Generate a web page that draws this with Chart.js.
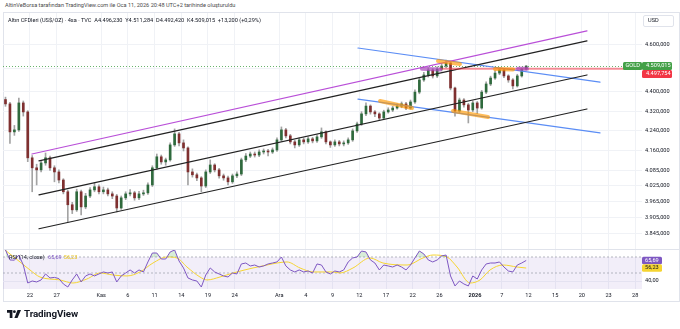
<!DOCTYPE html>
<html lang="tr">
<head>
<meta charset="UTF-8">
<title>Altın CFDleri (US$/OZ) - 4sa</title>
<script src="https://cdn.jsdelivr.net/npm/chart.js"></script>
<style>
  body { margin: 0; width: 680px; height: 329px; background: #fff; position: relative; overflow: hidden;
         font-family: Roboto, "Liberation Sans", sans-serif; color: #131722; }
  .credit { position: absolute; left: 5px; top: 2px; font-size: 5.6px; color: #4a4a4a; white-space: nowrap; }
  .frame { position: absolute; left: 3px; top: 12px; width: 677px; height: 290px; border: 1px solid #e0e3eb; box-sizing: border-box; }
  .sep { position: absolute; left: 3px; top: 249px; width: 677px; height: 1px; background: #e0e3eb; }
  #mainBox { position: absolute; left: 3px; top: 13px; width: 677px; height: 236px; }
  #rsiBox { position: absolute; left: 3px; top: 250px; width: 677px; height: 51px; }
  .legend { position: absolute; left: 8px; top: 16.5px; font-size: 5.6px; white-space: nowrap; }
  .rsiLegend { position: absolute; left: 9px; top: 253.5px; font-size: 5.6px; white-space: nowrap; }
  .rsiLegend .v1 { color: #7e57c2; margin-left: 2px; }
  .rsiLegend .v2 { color: #e8c21a; margin-left: 2px; }
  .brand { position: absolute; left: 7px; top: 308px; display: flex; align-items: center; gap: 3px;
           font-size: 9.8px; font-weight: 700; letter-spacing: -0.1px; }
</style>
</head>
<body>
<div class="credit">AltinVeBorsa tarafından TradingView.com ile Oca 11, 2026 20:48 UTC+2 tarihinde oluşturuldu</div>
<div class="frame"></div>
<div id="mainBox"><canvas id="mainChart" width="677" height="236"></canvas></div>
<div class="sep"></div>
<div id="rsiBox"><canvas id="rsiChart" width="677" height="51"></canvas></div>
<div class="legend">Altın CFDleri (US$/OZ) · 4sa · TVC&nbsp;&nbsp;A4.496,230&nbsp;&nbsp;Y4.511,284&nbsp;&nbsp;D4.492,420&nbsp;&nbsp;K4.509,015&nbsp;&nbsp;+13,200 (+0,29%)</div>
<div class="rsiLegend">RSI (14, close) <span class="v1">65,69</span><span class="v2">56,23</span></div>
<div class="brand">
  <svg width="14" height="8" viewBox="0 0 36 20"><path d="M0 0h14v20h-7v-13h-7z" fill="#131722"/><circle cx="19" cy="4" r="3.6" fill="#131722"/><path d="M27 0h9l-9 20h-8z" fill="#131722"/></svg>
  <span>TradingView</span>
</div>

<script>
// ---- data (4h gold chart, resampled to 12h candles) ----
const firstCandleDay = -2.75;   // trading days relative to Oct 22
const candleStepDays = 0.5;

const candleOpen = [
  4368, 4350, 4236, 4244, 4354, 4317, 4133, 4094, 4086, 4113,
  4133, 4094, 4078, 4047, 4002, 3953, 3934, 4002, 3945, 3986,
  4009, 4021, 4002, 4009, 3994, 3986, 3941, 3979, 3994, 3998,
  3979, 3994, 3998, 4028, 4094, 4137, 4117, 4125, 4184, 4228,
  4192, 4172, 4078, 4067, 4055, 4024, 4078, 4105, 4086, 4063,
  4055, 4040, 4063, 4070, 4125, 4140, 4148, 4144, 4156, 4160,
  4156, 4164, 4204, 4244, 4220, 4196, 4184, 4204, 4196, 4208,
  4200, 4216, 4236, 4196, 4184, 4196, 4188, 4192, 4204, 4240,
  4268, 4309, 4341, 4317, 4309, 4292, 4317, 4325, 4333, 4341,
  4350, 4333, 4358, 4399, 4450, 4471, 4492, 4467, 4496, 4509,
  4522, 4416, 4321, 4366, 4346, 4325, 4354, 4333, 4399, 4433,
  4458, 4479, 4492, 4467, 4450, 4425, 4467, 4496.23
];
const candleHigh = [
  4378, 4356, 4262, 4374, 4362, 4322, 4142, 4108, 4122, 4152,
  4140, 4102, 4086, 4052, 4008, 3962, 4012, 4008, 3996, 4018,
  4036, 4028, 4020, 4016, 4002, 3992, 3986, 4002, 4010, 4004,
  4004, 4008, 4036, 4102, 4148, 4144, 4132, 4192, 4248, 4234,
  4204, 4176, 4090, 4074, 4060, 4086, 4125, 4110, 4092, 4070,
  4062, 4070, 4078, 4132, 4150, 4156, 4156, 4164, 4168, 4166,
  4172, 4212, 4256, 4250, 4226, 4202, 4212, 4212, 4216, 4214,
  4224, 4252, 4240, 4200, 4204, 4202, 4200, 4212, 4248, 4276,
  4318, 4354, 4346, 4322, 4314, 4324, 4334, 4340, 4350, 4358,
  4356, 4366, 4408, 4460, 4482, 4502, 4498, 4506, 4520, 4535,
  4528, 4420, 4374, 4372, 4352, 4362, 4360, 4406, 4442, 4466,
  4490, 4501, 4498, 4472, 4456, 4474, 4500, 4511.284
];
const candleLow = [
  4340, 4190, 4222, 4238, 4300, 4118, 4002, 4028, 4078, 4104,
  4084, 4040, 4036, 3994, 3889, 3920, 3928, 3915, 3938, 3980,
  4002, 3994, 3994, 3986, 3976, 3926, 3936, 3972, 3986, 3970,
  3972, 3988, 3992, 4022, 4088, 4108, 4104, 4120, 4178, 4180,
  4160, 4028, 4058, 4044, 4002, 4018, 4072, 4078, 4054, 4046,
  4028, 4034, 4056, 4064, 4118, 4134, 4136, 4138, 4148, 4140,
  4150, 4158, 4198, 4212, 4188, 4172, 4178, 4188, 4190, 4192,
  4194, 4210, 4188, 4174, 4178, 4180, 4180, 4186, 4198, 4234,
  4262, 4302, 4308, 4298, 4284, 4288, 4312, 4318, 4328, 4334,
  4326, 4328, 4352, 4392, 4444, 4462, 4458, 4460, 4488, 4502,
  4408, 4300, 4314, 4336, 4272, 4318, 4310, 4328, 4392, 4426,
  4452, 4472, 4460, 4440, 4412, 4420, 4462, 4492.42
];
const candleClose = [
  4350, 4236, 4244, 4354, 4317, 4133, 4094, 4086, 4113, 4133,
  4094, 4078, 4047, 4002, 3953, 3934, 4002, 3945, 3986, 4009,
  4021, 4002, 4009, 3994, 3986, 3941, 3979, 3994, 3998, 3979,
  3994, 3998, 4028, 4094, 4137, 4117, 4125, 4184, 4228, 4192,
  4172, 4078, 4067, 4055, 4024, 4078, 4105, 4086, 4063, 4055,
  4040, 4063, 4070, 4125, 4140, 4148, 4144, 4156, 4160, 4156,
  4164, 4204, 4244, 4220, 4196, 4184, 4204, 4196, 4208, 4200,
  4216, 4236, 4196, 4184, 4196, 4188, 4192, 4204, 4240, 4268,
  4309, 4341, 4317, 4309, 4292, 4317, 4325, 4333, 4341, 4350,
  4333, 4358, 4399, 4450, 4471, 4492, 4467, 4496, 4509, 4522,
  4416, 4321, 4366, 4346, 4325, 4354, 4333, 4399, 4433, 4458,
  4479, 4492, 4467, 4450, 4425, 4467, 4496, 4509.015
];

const rsiValues = [
  78.8, 66.3, 66.0, 72.5, 60.0, 37.5, 40.0, 38.8, 41.3, 48.8,
  43.8, 44.5, 43.0, 36.3, 32.5, 41.3, 48.8, 38.8, 46.3, 48.8,
  46.3, 48.8, 51.3, 50.0, 51.3, 38.8, 46.3, 50.0, 53.8, 50.0,
  53.8, 51.3, 63.8, 75.0, 75.0, 67.5, 67.5, 76.3, 78.8, 65.0,
  56.3, 43.8, 41.3, 40.0, 32.5, 47.5, 56.3, 51.3, 48.8, 46.3,
  45.0, 50.0, 48.8, 61.3, 62.5, 58.8, 60.0, 57.5, 58.8, 61.3,
  62.5, 63.8, 70.0, 58.8, 53.8, 51.3, 53.8, 51.3, 52.5, 50.0,
  61.3, 60.0, 51.3, 48.8, 52.5, 51.3, 53.8, 63.8, 68.8, 70.0,
  77.5, 76.3, 66.3, 62.5, 53.8, 60.0, 58.8, 57.5, 60.0, 57.5,
  53.8, 60.0, 68.8, 77.5, 73.8, 66.3, 63.8, 66.3, 71.3, 72.5,
  46.3, 33.8, 40.0, 36.3, 33.8, 46.3, 42.5, 53.8, 61.3, 62.5,
  62.5, 63.8, 57.5, 52.5, 51.3, 60.0, 62.5, 65.69
];
const rsiMaDays = [
  -2.81, -1.12, 0, 1.12, 3.37, 4.83, 6.40, 7.87, 9.33, 10.9,
  12.36, 13.82, 15.39, 16.52, 17.64, 19.1, 19.89, 21.35, 22.81, 25.06,
  26.63, 27.75, 28.88, 30.34, 31.8, 34.04, 34.83, 36.29, 38.2, 39.66,
  42.36, 44.16, 45.28, 46.85, 47.98, 49.44, 50.56, 51.69, 53.15, 54.72, 55.75
];
const rsiMaValues = [
  78.8, 63.8, 53.8, 45.0, 41.3, 37.5, 42.5, 50.0, 47.5, 46.3,
  51.3, 62.5, 70.0, 68.8, 57.5, 45.0, 41.3, 45.0, 50.0, 56.3,
  60.0, 62.5, 63.8, 56.3, 51.3, 51.3, 50.0, 56.3, 68.8, 62.5,
  60.0, 68.8, 72.5, 70.0, 57.5, 37.5, 41.3, 53.8, 60.0, 57.5, 56.23
];

const dateTickDays = [0, 3, 8, 11, 14, 17, 20, 23, 28, 31, 34, 37, 40, 43, 46, 50, 53, 56, 59, 62, 65, 68];
const dateTickLabels = ['22', '27', 'Kas', '6', '11', '14', '19', '24', 'Ara', '4', '9', '12', '17', '22', '26', '2026', '7', '12', '15', '20', '23', '28'];
const priceTicks = [4600, 4500, 4400, 4320, 4240, 4160, 4085, 4025, 3965, 3905, 3845];
const hiddenPriceTicks = [4500];
const rsiTicks = [40];

const lastPrice = 4509.015;
const alertPrice = 4497.754;
const rsiLast = 65.69;
const rsiMaLast = 56.23;

// drawings: [trading day, price]
const purpleLine = [[0.22, 4148], [62.58, 4662]];
const channelUpper = [[1.01, 4121], [62.58, 4618]];
const channelMiddle = [[1.01, 3990], [62.58, 4471]];
const channelLower = [[1.01, 3864], [62.58, 4329]];
const blueUpper = [[36.85, 4587], [64.04, 4441]];
const blueLower = [[36.85, 4370], [64.04, 4232]];
const alertLine = [[46.07, 4497.754], [68.76, 4497.754]];
const orangeMarks = [
  [[39.33, 4362], [42.92, 4333]],
  [[45.84, 4531], [48.31, 4518]],
  [[47.53, 4321], [51.46, 4296]],
  [[52.25, 4496], [54.27, 4494]]
];
const purpleMarks = [
  [[44.04, 4497], [46.07, 4494]],
  [[54.83, 4498], [55.84, 4498]]
];

// ---- view settings ----
const xMin = -3.03, xMax = 68.76;
const priceMin = 3790.5, priceMax = 4741.8;
const rsiMin = 30, rsiMax = 78.75;
const FONT = 'Roboto, "Liberation Sans", sans-serif';
const gridColor = '#f0f2f6';
const upColor = '#2f6a3d', downColor = '#7f3030', wickColor = '#a3a3a3';

function fmtTR(v, d) {
  const s = v.toFixed(d);
  const parts = s.split('.');
  return parts[0].replace(/\B(?=(\d{3})+(?!\d))/g, '.') + (parts[1] ? ',' + parts[1] : '');
}

function tag(ctx, x, y, w, h, bg, border) {
  ctx.beginPath();
  ctx.roundRect(x, y, w, h, 1.5);
  ctx.fillStyle = bg;
  ctx.fill();
  if (border) { ctx.strokeStyle = border; ctx.lineWidth = 1; ctx.stroke(); }
}

const candleDay = candleClose.map((_, i) => firstCandleDay + i * candleStepDays);
const bodyColors = candleClose.map((c, i) => c >= candleOpen[i] ? upColor : downColor);

function segment(points, color, width, order) {
  return {
    type: 'line',
    data: points.map(p => ({ x: p[0], y: p[1] })),
    borderColor: color,
    borderWidth: width,
    borderCapStyle: 'round',
    pointRadius: 0,
    fill: false,
    tension: 0,
    order: order
  };
}

const mainDecor = {
  id: 'mainDecor',
  beforeDatasetsDraw(chart) {
    const { ctx, chartArea: a, scales: { y } } = chart;
    const py = Math.round(y.getPixelForValue(lastPrice)) + 0.5;
    ctx.save();
    ctx.strokeStyle = 'rgba(67,160,71,0.8)';
    ctx.setLineDash([1, 2]);
    ctx.lineWidth = 1;
    ctx.beginPath();
    ctx.moveTo(a.left, py);
    ctx.lineTo(a.right, py);
    ctx.stroke();
    ctx.restore();
  },
  afterDraw(chart) {
    const { ctx, chartArea: a, scales: { y } } = chart;
    ctx.save();
    ctx.font = '5.6px ' + FONT;
    ctx.textBaseline = 'middle';
    // currency box
    tag(ctx, a.right + 1.5, 2.5, 30, 11, '#ffffff', '#e0e3eb');
    ctx.fillStyle = '#131722';
    ctx.fillText('USD', a.right + 6, 8);
    // last price + alert level
    const gy = y.getPixelForValue(lastPrice);
    tag(ctx, a.right - 19, gy - 4, 19, 8, '#43a047');
    tag(ctx, a.right, gy - 4, 30, 8, '#43a047');
    tag(ctx, a.right, gy + 4, 30, 8, '#f23645');
    ctx.fillStyle = '#ffffff';
    ctx.fillText('GOLD', a.right - 16.5, gy);
    ctx.fillText(fmtTR(lastPrice, 3), a.right + 4, gy);
    ctx.fillText(fmtTR(alertPrice, 3), a.right + 4, gy + 8);
    ctx.restore();
  }
};

const rsiDecor = {
  id: 'rsiDecor',
  beforeDatasetsDraw(chart) {
    const { ctx, chartArea: a, scales: { y } } = chart;
    const y70 = y.getPixelForValue(70), y30 = y.getPixelForValue(30), y50 = y.getPixelForValue(50);
    ctx.save();
    ctx.fillStyle = 'rgba(126,87,194,0.1)';
    ctx.fillRect(a.left, y70, a.right - a.left, y30 - y70);
    ctx.strokeStyle = '#a3a6af';
    ctx.setLineDash([2, 2]);
    ctx.lineWidth = 0.8;
    [y70, y50].forEach(py => {
      ctx.beginPath();
      ctx.moveTo(a.left, py);
      ctx.lineTo(a.right, py);
      ctx.stroke();
    });
    ctx.restore();
  },
  afterDraw(chart) {
    const { ctx, chartArea: a, scales: { y } } = chart;
    ctx.save();
    ctx.font = '5.6px ' + FONT;
    ctx.textBaseline = 'middle';
    const p1 = y.getPixelForValue(rsiLast), p2 = y.getPixelForValue(rsiMaLast);
    tag(ctx, a.right, p1 - 3.7, 20, 7.4, '#7e57c2');
    tag(ctx, a.right, p2 - 3.7, 20, 7.4, '#f5d431');
    ctx.fillStyle = '#ffffff';
    ctx.fillText(fmtTR(rsiLast, 2), a.right + 3, p1);
    ctx.fillStyle = '#131722';
    ctx.fillText(fmtTR(rsiMaLast, 2), a.right + 3, p2);
    ctx.restore();
  }
};

const datasets = [
  {
    type: 'bar',
    data: candleDay.map((d, i) => ({ x: d, y: [candleLow[i], candleHigh[i]] })),
    backgroundColor: wickColor,
    barThickness: 1,
    grouped: false,
    borderWidth: 0,
    order: 50
  },
  {
    type: 'bar',
    data: candleDay.map((d, i) => ({ x: d, y: [candleOpen[i], candleClose[i]] })),
    backgroundColor: bodyColors,
    barThickness: 2,
    minBarLength: 1,
    grouped: false,
    borderWidth: 0,
    order: 40
  },
  segment(purpleLine, '#b94fd8', 1.2, 20),
  segment(channelUpper, '#222222', 1.2, 20),
  segment(channelMiddle, '#222222', 1.2, 20),
  segment(channelLower, '#222222', 1.2, 20),
  segment(blueUpper, '#5b8df5', 1.2, 20),
  segment(blueLower, '#5b8df5', 1.2, 20),
  segment(alertLine, 'rgba(242,54,69,0.55)', 2, 15)
];
orangeMarks.forEach(m => datasets.push(segment(m, 'rgba(255,152,0,0.65)', 4, 10)));
purpleMarks.forEach(m => datasets.push(segment(m, 'rgba(171,71,188,0.7)', 4, 10)));

new Chart(document.getElementById('mainChart'), {
  type: 'bar',
  data: { datasets: datasets },
  options: {
    responsive: false,
    animation: false,
    events: [],
    layout: { padding: 0 },
    plugins: { legend: { display: false }, tooltip: { enabled: false } },
    scales: {
      x: {
        type: 'linear', min: xMin, max: xMax, offset: false,
        grid: { color: gridColor, drawTicks: false, offset: false },
        border: { display: false },
        ticks: { display: false },
        afterBuildTicks: s => { s.ticks = dateTickDays.map(v => ({ value: v })); },
        afterFit: s => { s.height = 0; s.paddingLeft = 0; s.paddingRight = 0; }
      },
      y: {
        type: 'logarithmic', position: 'right', min: priceMin, max: priceMax,
        grid: { color: gridColor, drawTicks: false },
        border: { display: false },
        ticks: {
          padding: 3, autoSkip: false, color: '#131722', font: { family: FONT, size: 5.6 },
          callback: v => hiddenPriceTicks.includes(v) ? '' : fmtTR(v, 3)
        },
        afterBuildTicks: s => { s.ticks = priceTicks.map(v => ({ value: v })); },
        afterFit: s => { s.width = 38; s.paddingTop = 0; s.paddingBottom = 0; }
      }
    }
  },
  plugins: [mainDecor]
});

new Chart(document.getElementById('rsiChart'), {
  type: 'line',
  data: {
    datasets: [
      {
        data: candleDay.map((d, i) => ({ x: d, y: rsiValues[i] })),
        borderColor: '#7e57c2',
        borderWidth: 1,
        pointRadius: 0,
        tension: 0,
        fill: { target: { value: 70 }, above: 'rgba(76,175,80,0.22)', below: 'rgba(0,0,0,0)' },
        order: 1
      },
      {
        data: rsiMaDays.map((d, i) => ({ x: d, y: rsiMaValues[i] })),
        borderColor: '#f5d431',
        borderWidth: 1,
        pointRadius: 0,
        cubicInterpolationMode: 'monotone',
        fill: false,
        order: 2
      }
    ]
  },
  options: {
    responsive: false,
    animation: false,
    events: [],
    layout: { padding: 0 },
    plugins: { legend: { display: false }, tooltip: { enabled: false } },
    scales: {
      x: {
        type: 'linear', min: xMin, max: xMax,
        grid: { color: gridColor, drawTicks: false },
        border: { display: false },
        ticks: {
          padding: 3, autoSkip: false, maxRotation: 0, color: '#131722',
          font: c => ({ family: FONT, size: 5.6, weight: c.tick && c.tick.value === 50 ? 'bold' : 'normal' }),
          callback: v => { const i = dateTickDays.indexOf(v); return i < 0 ? '' : dateTickLabels[i]; }
        },
        afterBuildTicks: s => { s.ticks = dateTickDays.map(v => ({ value: v })); },
        afterFit: s => { s.height = 12; s.paddingLeft = 0; s.paddingRight = 0; }
      },
      y: {
        type: 'linear', position: 'right', min: rsiMin, max: rsiMax,
        grid: { color: gridColor, drawTicks: false },
        border: { display: false },
        ticks: { padding: 3, autoSkip: false, color: '#131722', font: { family: FONT, size: 5.6 }, callback: v => fmtTR(v, 2) },
        afterBuildTicks: s => { s.ticks = rsiTicks.map(v => ({ value: v })); },
        afterFit: s => { s.width = 38; s.paddingTop = 0; s.paddingBottom = 0; }
      }
    }
  },
  plugins: [rsiDecor]
});
</script>
</body>
</html>
